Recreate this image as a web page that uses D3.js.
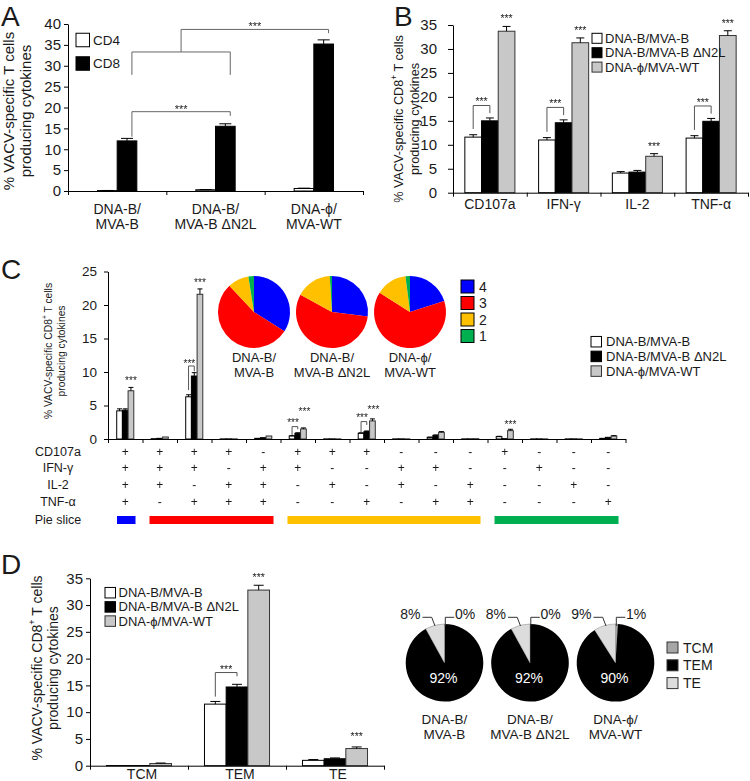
<!DOCTYPE html>
<html><head><meta charset="utf-8">
<script src="https://cdn.jsdelivr.net/npm/d3@7"></script>
<style>
body{margin:0;background:#fff}
svg{display:block}
text{font-family:"Liberation Sans",Arial,Helvetica,sans-serif;fill:#1a1a1a}
.gs{filter:url(#gray)}
</style>
</head><body>
<svg id="fig" width="750" height="781"><defs><filter id="gray" x="-20%" y="-20%" width="140%" height="140%"><feColorMatrix type="saturate" values="0"/></filter></defs></svg>
<script>
// ================= DATA =================
// Panel A
const groupsA = [["DNA-B/","MVA-B"],["DNA-B/","MVA-B \u0394N2L"],["DNA-\u03d5/","MVA-WT"]];
const seriesA = ["CD4","CD8"];
const cd4A = [0.1, 0.3, 0.6];
const cd4ErrA = [0.03, 0.05, 0.08];
const cd8A = [12.0, 15.5, 35.2];
const cd8ErrA = [0.6, 0.6, 1.0];
const ticksA = [0,5,10,15,20,25,30,35,40];

// Shared series names (B, C, D)
const seriesNames = ["DNA-B/MVA-B","DNA-B/MVA-B \u0394N2L","DNA-\u03d5/MVA-WT"];

// Panel B
const cytokinesB = ["CD107a","IFN-\u03b3","IL-2","TNF-\u03b1"];
const bMvaB = [11.6, 11.0, 4.1, 11.4];
const bMvaBErr = [0.5, 0.5, 0.3, 0.5];
const bDeltaN2L = [15.0, 14.6, 4.3, 14.9];
const bDeltaN2LErr = [0.6, 0.6, 0.35, 0.6];
const bWT = [33.7, 31.3, 7.6, 32.8];
const bWTErr = [1.0, 1.0, 0.55, 1.0];
const ticksB = [0,5,10,15,20,25,30,35];

// Panel C
const rowLabelsC = ["CD107a","IFN-\u03b3","IL-2","TNF-\u03b1"];
const combCD107a = ["+","+","+","+","-","+","+","+","-","-","-","+","-","-","-"];
const combIFNg   = ["+","+","+","-","+","+","-","-","+","+","-","-","+","-","-"];
const combIL2    = ["+","+","-","+","+","-","+","-","+","-","+","-","-","+","-"];
const combTNFa   = ["+","-","+","+","+","-","-","+","-","+","+","-","-","-","+"];
const cMvaB      = [4.2, 0.05, 6.3, 0.02, 0.1, 0.45, 0.02, 0.85, 0.02, 0.25, 0.02, 0.35, 0.02, 0.02, 0.1];
const cMvaBErr   = [0.3, 0, 0.3, 0, 0, 0.05, 0, 0.08, 0, 0.03, 0, 0.05, 0, 0, 0];
const cDeltaN2L  = [4.3, 0.1, 9.4, 0.02, 0.2, 0.85, 0.02, 1.1, 0.02, 0.55, 0.02, 0.05, 0.02, 0.02, 0.25];
const cDeltaN2LErr=[0.2, 0, 0.5, 0, 0, 0.08, 0, 0.1, 0, 0.05, 0, 0, 0, 0, 0];
const cWT        = [7.2, 0.3, 21.6, 0.02, 0.45, 1.5, 0.02, 2.7, 0.02, 1.0, 0.05, 1.25, 0.02, 0.02, 0.45];
const cWTErr     = [0.5, 0, 0.8, 0, 0, 0.15, 0, 0.3, 0, 0.1, 0, 0.2, 0, 0, 0.05];
const ticksC = [0,5,10,15,20,25];
const pieSliceGroups = [{from:0,to:1,color:"#0000FF"},{from:1,to:5,color:"#FF0000"},{from:5,to:11,color:"#FFC000"},{from:11,to:15,color:"#00B050"}];
const pieCats = ["4","3","2","1"];
const pieColors = ["#0000FF","#FF0000","#FFC000","#00B050"];
const pieMvaB = [34, 54, 9.5, 2.5];
const pieDeltaN2L = [27, 56, 16, 1];
const pieWT = [20, 64, 14, 2];
const pieLabelsC = [["DNA-B/","MVA-B"],["DNA-B/","MVA-B \u0394N2L"],["DNA-\u03d5/","MVA-WT"]];

// Panel D
const phenotypes = ["TCM","TEM","TE"];
const dMvaB = [0.03, 11.5, 1.0];
const dMvaBErr = [0, 0.5, 0.15];
const dDeltaN2L = [0.03, 14.7, 1.3];
const dDeltaN2LErr = [0, 0.5, 0.15];
const dWT = [0.4, 32.8, 3.2];
const dWTErr = [0.1, 0.9, 0.3];
const ticksD = [0,5,10,15,20,25,30,35];
const phenoMvaB = [0, 92, 8];
const phenoDeltaN2L = [0, 92, 8];
const phenoWT = [1, 90, 9];
const phenoColors = ["#a6a6a6","#000000","#dcdcdc"];

// ================= DRAWING =================
const svg = d3.select("#fig");
const INK = "#1a1a1a";
const GREY = "#c8c8c8";
const seriesStyles = [{fill:"#fff",stroke:"#000"},{fill:"#000",stroke:"#000"},{fill:GREY,stroke:"#333"}];

function panel(cfg){
  const g = svg.append("g");
  const x = d3.scaleBand().domain(d3.range(cfg.n)).range([cfg.x0,cfg.x1]).padding(0);
  const inner = d3.scaleBand().domain(d3.range(cfg.series.length)).range([0,x.bandwidth()]).paddingInner(0).paddingOuter(cfg.padOuter);
  const y = d3.scaleLinear().domain([0,cfg.yMax]).range([cfg.y0,cfg.y1]);
  const bw = inner.bandwidth();
  cfg.series.forEach((s,j)=>{
    const sg = g.append("g");
    sg.selectAll("rect").data(s.vals).join("rect")
      .attr("x",(d,i)=>x(i)+inner(j)).attr("width",bw)
      .attr("y",d=>y(d)).attr("height",d=>y(0)-y(d))
      .attr("fill",s.fill).attr("stroke",s.stroke).attr("stroke-width",1);
    const eg = g.append("g").attr("stroke","#000").attr("stroke-width",1);
    s.vals.forEach((v,i)=>{
      const e = s.errs[i]; if(!e) return;
      const cx = x(i)+inner(j)+bw/2;
      eg.append("line").attr("x1",cx).attr("x2",cx).attr("y1",y(v)).attr("y2",y(v+e));
      eg.append("line").attr("x1",cx-cfg.capW/2).attr("x2",cx+cfg.capW/2).attr("y1",y(v+e)).attr("y2",y(v+e));
    });
  });
  const ya = g.append("g").attr("transform",`translate(${cfg.x0},0)`)
    .call(d3.axisLeft(y).tickValues(cfg.ticks).tickSize(cfg.tickLen).tickSizeOuter(0).tickPadding(cfg.tickPad));
  ya.selectAll("text").style("font-size",cfg.tickFont+"px").attr("fill",INK).style("font-family",null);
  ya.selectAll("line,path").attr("stroke","#000");
  const xl = d3.scaleLinear().domain([0,cfg.n]).range([cfg.x0,cfg.x1]);
  const xa = g.append("g").attr("transform",`translate(0,${cfg.y0})`)
    .call(d3.axisBottom(xl).tickValues(d3.range(cfg.n+1)).tickFormat("").tickSize(cfg.xTickLen).tickSizeOuter(0));
  xa.selectAll("line,path").attr("stroke","#000");
  const bc = (i,j)=>x(i)+inner(j)+bw/2;
  return {g,x,inner,y,bw,bc};
}
const small = svg.append("g").attr("class","gs"); // small annotation text, grayscale-rasterized
function stars(cx,cy,fs){ // cy = visual center of the asterisks
  small.append("text").attr("x",cx).attr("y",cy+0.57*fs).attr("text-anchor","middle")
    .style("font-size",fs+"px").text("***");
}
function bracket(x1,yb1,x2,yb2,yt,color){
  svg.append("path").attr("d",`M${x1},${yb1}V${yt}H${x2}V${yb2}`)
    .attr("fill","none").attr("stroke",color||"#555").attr("stroke-width",1);
}
function yTitle(lines,cx,cy,fs,gap){
  const g = svg.append("g").attr("transform",`translate(${cx},${cy}) rotate(-90)`);
  lines.forEach((ln,k)=>{
    const t = g.append("text").attr("x",0).attr("y",(k-(lines.length-1)/2)*gap)
      .attr("text-anchor","middle").attr("dominant-baseline","central").style("font-size",fs+"px");
    ln.forEach(p=>{
      const ts = t.append("tspan").text(p.t);
      if(p.sup) ts.attr("baseline-shift","super").style("font-size",(fs*0.65)+"px");
    });
  });
}
function twoLine(cx,yb,lines,fs,lh){
  const t = svg.append("text").attr("text-anchor","middle").style("font-size",fs+"px");
  lines.forEach((l,k)=>t.append("tspan").attr("x",cx).attr("y",yb+k*lh).text(l));
}
function letter(t,x,y){ svg.append("text").attr("x",x).attr("y",y).style("font-size","28px").text(t); }
function legend(items,x,y0,dy,box,fs,textX){
  items.forEach((it,k)=>{
    svg.append("rect").attr("x",x).attr("y",y0+k*dy-box/2).attr("width",box).attr("height",box)
      .attr("fill",it.fill).attr("stroke",it.stroke||"#000").attr("stroke-width",1);
    svg.append("text").attr("x",textX).attr("y",y0+k*dy).attr("dominant-baseline","central")
      .style("font-size",fs+"px").text(it.label);
  });
}

// ---------- Panel A ----------
letter("A",1,26);
const A = panel({n:3,x0:68,x1:363,y0:191,y1:24,yMax:40,ticks:ticksA,padOuter:1.5,tickLen:4,tickPad:3,tickFont:15,xTickLen:4,capW:12,
  series:[{vals:cd4A,errs:cd4ErrA,fill:"#fff",stroke:"#000"},{vals:cd8A,errs:cd8ErrA,fill:"#000",stroke:"#000"}]});
groupsA.forEach((l,i)=>twoLine(A.x(i)+A.x.bandwidth()/2,213.5,l,14,15.5));
yTitle([[{t:"% VACV-specific T cells"}],[{t:"producing cytokines"}]],16.5,111,15,16.5);
legend([{label:seriesA[0],fill:"#fff"},{label:seriesA[1],fill:"#000"}],76,40,23.5,13.5,13.5,93);
{
  const bx = i=>A.bc(i,1)+A.bw*0.25, y=A.y;
  bracket(bx(0),y(13.0),bx(1),y(18.0),y(19.0),"#666");
  stars((bx(0)+bx(1))/2,y(19.0)-5,11);
  bracket(bx(0),y(27.8),bx(1),y(27.8),y(33.3),"#666");
  const m=(bx(0)+bx(1))/2;
  bracket(m,y(33.3),bx(2),y(37.8),y(38.7),"#666");
  stars((m+bx(2))/2,y(38.7)-6,11);
}

// ---------- Panel B ----------
letter("B",394,26);
const bVals=[bMvaB,bDeltaN2L,bWT], bErrs=[bMvaBErr,bDeltaN2LErr,bWTErr];
const B = panel({n:4,x0:453,x1:748,y0:192.7,y1:25,yMax:35,ticks:ticksB,padOuter:0.71,tickLen:5,tickPad:11,tickFont:15,xTickLen:4,capW:8,
  series:bVals.map((v,j)=>({vals:v,errs:bErrs[j],...seriesStyles[j]}))});
cytokinesB.forEach((c,i)=>svg.append("text").attr("x",B.x(i)+B.x.bandwidth()/2).attr("y",208.5).attr("text-anchor","middle").style("font-size","14px").text(c));
yTitle([[{t:"% VACV-specific CD8"},{t:"+",sup:true},{t:" T cells"}],[{t:"producing cytokines"}]],407,119,12.7,16.5);
legend(seriesNames.map((s,j)=>({label:s,fill:seriesStyles[j].fill,stroke:seriesStyles[j].stroke})),592,38.3,14.4,10,13,605);
[0,1,3].forEach(i=>{
  const y=B.y, top=y(bDeltaN2L[i]+bDeltaN2LErr[i]+2.6);
  bracket(B.bc(i,0),y(bMvaB[i]+bMvaBErr[i]+1.2),B.bc(i,1),y(bDeltaN2L[i]+bDeltaN2LErr[i]+1.0),top);
  stars((B.bc(i,0)+B.bc(i,1))/2,top-6,10.5);
});
cytokinesB.forEach((c,i)=>stars(B.bc(i,2),B.y(bWT[i]+bWTErr[i])-10,10.5));

// ---------- Panel C ----------
letter("C",1,279);
const cVals=[cMvaB,cDeltaN2L,cWT], cErrs=[cMvaBErr,cDeltaN2LErr,cWTErr];
const C = panel({n:15,x0:108,x1:625.5,y0:439,y1:271.5,yMax:25,ticks:ticksC,padOuter:1.53,tickLen:4,tickPad:7,tickFont:13.5,xTickLen:4,capW:5,
  series:cVals.map((v,j)=>({vals:v,errs:cErrs[j],...seriesStyles[j]}))});
yTitle([[{t:"% VACV-specific CD8"},{t:"+",sup:true},{t:" T cells"}],[{t:"producing cytokines"}]],54.5,351,10.3,13);
// table
const combRows=[combCD107a,combIFNg,combIL2,combTNFa];
const rowY=[451.7,468.3,484.8,501.7];
const gc = i=>C.x(i)+C.x.bandwidth()/2;
combRows.forEach((row,r)=>{
  svg.append("text").attr("x",58).attr("y",rowY[r]).attr("dominant-baseline","central").attr("text-anchor","middle").style("font-size","12.5px").text(rowLabelsC[r]);
  row.forEach((s,i)=>small.append("text").attr("x",gc(i)).attr("y",rowY[r]).attr("dominant-baseline","central").attr("text-anchor","middle").style("font-size","12px").text(s));
});
svg.append("text").attr("x",58).attr("y",520).attr("dominant-baseline","central").attr("text-anchor","middle").style("font-size","12.5px").text("Pie slice");
const xlC = d3.scaleLinear().domain([0,15]).range([108,625.5]);
pieSliceGroups.forEach((p,k)=>svg.append("rect").attr("x",xlC(p.from)+(k===0?9:7)).attr("width",xlC(p.to)-xlC(p.from)-(k===0?16:14))
  .attr("y",516).attr("height",8).attr("fill",p.color));
// significance
const sy=C.y;
stars(C.bc(0,2),sy(cWT[0]+cWTErr[0])-9,10);
bracket(C.bc(2,0),sy(7.3),C.bc(2,1),sy(10.1),sy(10.9));
stars((C.bc(2,0)+C.bc(2,1))/2-2,sy(10.9)-5,10);
stars(C.bc(2,2),sy(cWT[2]+cWTErr[2])-9,10);
bracket(C.bc(5,0),sy(0.6),C.bc(5,1),sy(1.45),sy(1.85));
stars(C.bc(5,0)+1,sy(1.85)-6.5,10);
stars(C.bc(5,2)+1,sy(cWT[5]+cWTErr[5])-19,10);
bracket(C.bc(7,0),sy(1.0),C.bc(7,1),sy(2.1),sy(2.6));
stars(C.bc(7,0)+1,sy(2.6)-6.5,10);
stars(C.bc(7,2)+1,sy(cWT[7]+cWTErr[7])-12,10);
stars(C.bc(11,2),sy(cWT[11]+cWTErr[11])-7,10);
// pies
const pieC = d3.pie().sort(null).value(d=>d);
const arcC = d3.arc().innerRadius(0).outerRadius(36);
const pxC = d3.scalePoint().domain([0,1,2]).range([254,410]);
[pieMvaB,pieDeltaN2L,pieWT].forEach((vals,k)=>{
  const g = svg.append("g").attr("transform",`translate(${pxC(k)},312)`);
  g.selectAll("path").data(pieC(vals)).join("path").attr("d",arcC).attr("fill",(d,i)=>pieColors[i]);
  twoLine(pxC(k),362,pieLabelsC[k],13,14.5);
});
legend(pieCats.map((c,i)=>({label:c,fill:pieColors[i]})),461,286.5,16.5,13,14,479);
legend(seriesNames.map((s,j)=>({label:s,fill:seriesStyles[j].fill,stroke:seriesStyles[j].stroke})),591,341.7,14.7,10.5,13,606);

// ---------- Panel D ----------
letter("D",1,574);
const dVals=[dMvaB,dDeltaN2L,dWT], dErrs=[dMvaBErr,dDeltaN2LErr,dWTErr];
const D = panel({n:3,x0:90,x1:384,y0:765.7,y1:578.3,yMax:35,ticks:ticksD,padOuter:0.76,tickLen:4,tickPad:3,tickFont:15,xTickLen:4,capW:10,
  series:dVals.map((v,j)=>({vals:v,errs:dErrs[j],...seriesStyles[j]}))});
phenotypes.forEach((p,i)=>svg.append("text").attr("x",D.x(i)+D.x.bandwidth()/2+3).attr("y",778.5).attr("text-anchor","middle").style("font-size","14px").text(p));
yTitle([[{t:"% VACV-specific CD8"},{t:"+",sup:true},{t:" T cells"}],[{t:"producing cytokines"}]],45,668,14,16);
legend(seriesNames.map((s,j)=>({label:s,fill:seriesStyles[j].fill,stroke:seriesStyles[j].stroke})),105,592.7,14.2,10.5,13,118.5);
{
  const y=D.y, top=y(17.4);
  bracket(D.bc(1,0),y(12.9),D.bc(1,1),y(16.7),top);
  stars((D.bc(1,0)+D.bc(1,1))/2,top-6,10.5);
  stars(D.bc(1,2),y(dWT[1]+dWTErr[1])-10.7,10.5);
  stars(D.bc(2,2),y(dWT[2]+dWTErr[2])-12.7,10.5);
}
// D pies
const pieD = d3.pie().sort(null).value(d=>d);
const rD = 38.8;
const arcD = d3.arc().innerRadius(0).outerRadius(rD);
const pxD = d3.scalePoint().domain([0,1,2]).range([444.5,615.5]);
[phenoMvaB,phenoDeltaN2L,phenoWT].forEach((vals,k)=>{
  const cx=pxD(k), cy=662.8;
  const g = svg.append("g").attr("transform",`translate(${cx},${cy})`);
  g.selectAll("path").data(pieD(vals)).join("path").attr("d",arcD)
    .attr("fill",(d,i)=>phenoColors[i]).attr("stroke",(d,i)=>i===1?"none":"#888").attr("stroke-width",0.5);
  svg.append("text").attr("x",cx-1).attr("y",cy+15.5).attr("dominant-baseline","central").attr("text-anchor","middle")
    .style("font-size","14px").style("fill","#fff").text(vals[1]+"%");
  svg.append("text").attr("x",cx-24).attr("y",cy-48.8).attr("dominant-baseline","central").attr("text-anchor","end").style("font-size","14px").text(vals[2]+"%");
  svg.append("text").attr("x",cx+10.5).attr("y",cy-48.8).attr("dominant-baseline","central").attr("text-anchor","start").style("font-size","14px").text(vals[0]+"%");
  svg.append("path").attr("d",`M${cx-22},${cy-45.5}H${cx-12.8}L${cx-9.5},${cy-36.8}`).attr("fill","none").attr("stroke","#333");
  svg.append("path").attr("d",`M${cx+9.8},${cy-45.5}H${cx+0.8}V${cy-36.8}`).attr("fill","none").attr("stroke","#333");
  twoLine(cx,723.5,pieLabelsC[k],13.5,15);
});
legend(phenotypes.map((p,i)=>({label:p,fill:phenoColors[i],stroke:"#333"})),667,647.5,17.8,11,14,683);
</script>
</body></html>
